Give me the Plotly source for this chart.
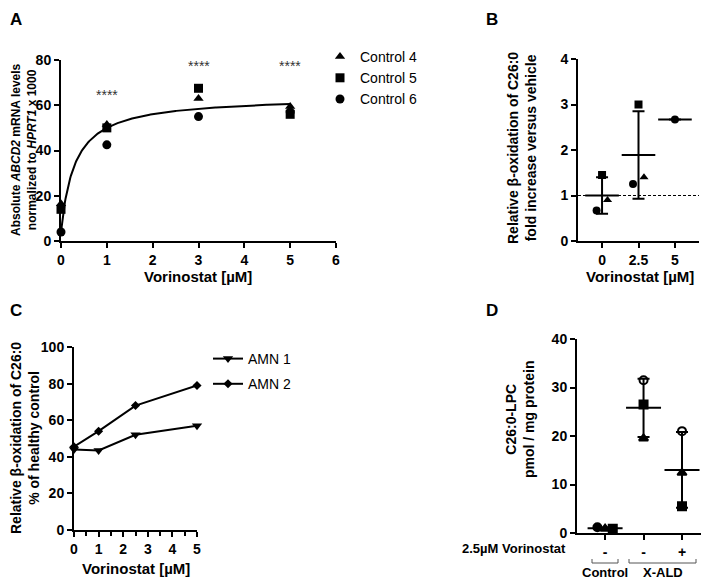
import plotly.graph_objects as go

W, H = 709, 580          # browser window
OFF = 8                  # default page margin around the figure
FW, FH = W - OFF, H - OFF
FONT = "Arial, Liberation Sans, sans-serif"

# ---------------- data ----------------
# Panel A
a_dose = [0, 1, 3, 5]
a_control4 = [16.5, 51.5, 63, 59.5]
a_control5 = [14, 50, 67.5, 56]
a_control6 = [4, 42.5, 55, 57]
a_names = ["Control 4", "Control 5", "Control 6"]
a_fit_bottom, a_fit_span, a_fit_k = 4.0, 60.0, 0.305   # hyperbolic fit parameters
a_sig_x = [1, 3, 5]
a_sig_y = [64.5, 77.5, 77.5]
a_sig_text = ["****", "****", "****"]

# Panel B
b_cats = ["0", "2.5", "5"]
b_circle = [0.67, 1.25, 2.67]
b_square = [1.45, 3.0, None]
b_triangle = [0.9, 1.4, None]
b_mean = [1.0, 1.89, 2.67]
b_sd = [0.4, 0.96, 0.0]

# Panel C
c_dose = [0, 1, 2.5, 5]
c_amn1 = [44, 43.5, 52, 57]
c_amn2 = [45.5, 54, 68, 79]
c_names = ["AMN 1", "AMN 2"]

# Panel D
d_ticks = ["-", "-", "+"]
d_circle = [1.2, 31.5, 21.0]
d_triangle = [0.9, 19.5, 12.4]
d_square = [0.9, 26.5, 5.5]
d_mean = [1.0, 25.8, 13.0]
d_sd = [0.15, 6.0, 7.8]
d_groups = ["Control", "X-ALD"]

# ---------------- helpers (page pixel -> paper fraction) ----------------
def px(x):
    return (x - OFF) / FW

def py(y):
    return 1 - (y - OFF) / FH

jit_b = [-0.15, 0.0, 0.15]          # horizontal spread of B points within a category
jit_d_control = [-0.2, 0.0, 0.2]    # horizontal spread of D control points

fig = go.Figure()

# ---------------- Panel A ----------------
sym_a = ["triangle-up", "square", "circle"]
for name, vals, sym in zip(a_names, [a_control4, a_control5, a_control6], sym_a):
    fig.add_trace(go.Scatter(x=a_dose, y=vals, mode="markers", name=name,
                             marker=dict(symbol=sym, size=9, color="black"),
                             xaxis="x", yaxis="y", legend="legend", cliponaxis=False))

n = 300
fit_x = [5 * i / n for i in range(n + 1)]
fit_y = [a_fit_bottom + a_fit_span * x / (a_fit_k + x) for x in fit_x]
fig.add_trace(go.Scatter(x=fit_x, y=fit_y, mode="lines", line=dict(color="black", width=2),
                         showlegend=False, xaxis="x", yaxis="y", cliponaxis=False))

for sx, sy, st in zip(a_sig_x, a_sig_y, a_sig_text):
    fig.add_annotation(x=sx, y=sy, xref="x", yref="y", text=st, showarrow=False,
                       font=dict(size=14, color="#333", family=FONT))

# ---------------- Panel B ----------------
bx = list(range(len(b_cats)))
fig.add_trace(go.Scatter(x=bx, y=b_mean, mode="markers",
                         marker=dict(symbol="line-ew", size=24, line=dict(width=2, color="black")),
                         error_y=dict(type="data", array=b_sd, width=6, thickness=2, color="black"),
                         showlegend=False, xaxis="x2", yaxis="y2", cliponaxis=False))
for vals, sym, off in [(b_circle, "circle", jit_b[0]), (b_square, "square", jit_b[1]),
                       (b_triangle, "triangle-up", jit_b[2])]:
    xs = [i + (off if i < 2 else 0) for i in bx]
    fig.add_trace(go.Scatter(x=xs, y=vals, mode="markers",
                             marker=dict(symbol=sym, size=8, color="black"),
                             showlegend=False, xaxis="x2", yaxis="y2", cliponaxis=False))
fig.add_shape(type="line", xref="x2 domain", yref="y2", x0=0, x1=1, y0=1, y1=1,
              line=dict(color="black", width=1, dash="3px,2px"))

# ---------------- Panel C ----------------
for name, vals, sym, sz in [(c_names[0], c_amn1, "triangle-down", 9),
                            (c_names[1], c_amn2, "diamond", 7)]:
    fig.add_trace(go.Scatter(x=c_dose, y=vals, mode="lines+markers", name=name,
                             line=dict(color="black", width=2),
                             marker=dict(symbol=sym, size=sz, color="black"),
                             legendgroup=name,
                             xaxis="x3", yaxis="y3", legend="legend2", cliponaxis=False))

# ---------------- Panel D ----------------
dx = list(range(len(d_ticks)))
fig.add_trace(go.Scatter(x=dx, y=d_mean, mode="markers",
                         marker=dict(symbol="line-ew", size=25, line=dict(width=2, color="black")),
                         error_y=dict(type="data", array=d_sd, width=6, thickness=2, color="black"),
                         showlegend=False, xaxis="x4", yaxis="y4", cliponaxis=False))
d_series = [(d_circle, ["circle", "circle-open", "circle-open"]),
            (d_triangle, ["triangle-up"] * 3),
            (d_square, ["square"] * 3)]
for k, (vals, syms) in enumerate(d_series):
    xs = [i + (jit_d_control[k] if i == 0 else 0.0) for i in dx]
    fig.add_trace(go.Scatter(x=xs, y=vals, mode="markers",
                             marker=dict(symbol=syms, size=8, color="black",
                                         line=dict(width=2, color="black")),
                             showlegend=False, xaxis="x4", yaxis="y4", cliponaxis=False))

# ---------------- axes ----------------
TICKFONT = dict(size=14, family=FONT, color="black", weight="bold")
axis_common = dict(showline=True, linecolor="black", linewidth=2, ticks="outside",
                   ticklen=5, tickwidth=1.5, tickcolor="black", showgrid=False,
                   zeroline=False, automargin=False, tickfont=TICKFONT)

fig.update_layout(
    template="none",
    xaxis=dict(domain=[px(61), px(336)], range=[0, 6], tickvals=[0, 1, 2, 3, 4, 5, 6],
               anchor="y", **axis_common),
    yaxis=dict(domain=[py(241), py(60)], range=[0, 80], tickvals=[0, 20, 40, 60, 80],
               anchor="x", **axis_common),
    xaxis2=dict(domain=[px(578), px(699)], range=[-0.66, 2.66], tickvals=bx, ticktext=b_cats,
                anchor="y2", **axis_common),
    yaxis2=dict(domain=[py(241), py(59)], range=[0, 4], tickvals=[0, 1, 2, 3, 4],
                anchor="x2", **axis_common),
    xaxis3=dict(domain=[px(74), px(197)], range=[0, 5], tickvals=[0, 1, 2, 3, 4, 5],
                minor=dict(dtick=0.5, ticks="outside", ticklen=4, tickwidth=1.5, tickcolor="black"),
                anchor="y3", **axis_common),
    yaxis3=dict(domain=[py(530), py(347)], range=[0, 100], tickvals=[0, 20, 40, 60, 80, 100],
                anchor="x3", **axis_common),
    xaxis4=dict(domain=[px(577), px(707)], range=[-0.73, 2.65], tickvals=dx, ticktext=d_ticks,
                anchor="y4", **axis_common),
    yaxis4=dict(domain=[py(533), py(339)], range=[0, 40], tickvals=[0, 10, 20, 30, 40],
                anchor="x4", **axis_common),
)

# ---------------- legends ----------------
fig.update_layout(
    legend=dict(x=px(320), y=py(41), xanchor="left", yanchor="top",
                font=dict(size=14, family=FONT, color="black"), bgcolor="rgba(0,0,0,0)",
                tracegroupgap=0),
    legend2=dict(x=px(208), y=py(343), xanchor="left", yanchor="top",
                 font=dict(size=14, family=FONT, color="black"), bgcolor="rgba(0,0,0,0)",
                 tracegroupgap=4, traceorder="grouped"),
)

# ---------------- text annotations ----------------
def ann(x, y, text, size=14, angle=0, xanchor="center", color="black"):
    fig.add_annotation(x=px(x), y=py(y), xref="paper", yref="paper", text=text,
                       showarrow=False, textangle=angle, xanchor=xanchor, yanchor="middle",
                       font=dict(size=size, family=FONT, color=color))

# panel letters
ann(16, 20, "<b>A</b>", size=17)
ann(492, 20, "<b>B</b>", size=17)
ann(16, 310, "<b>C</b>", size=17)
ann(492, 310, "<b>D</b>", size=17)

# axis titles
ann(24, 150, "<b>Absolute <i>ABCD2</i> mRNA levels<br>normalized to <i>HPRT1</i> x 1000</b>",
    size=12, angle=-90)
ann(198, 276, "<b>Vorinostat [µM]</b>", size=15)
ann(522, 148, "<b>Relative β-oxidation of C26:0<br>fold increase versus vehicle</b>", angle=-90)
ann(640, 277, "<b>Vorinostat [µM]</b>", size=15)
ann(25, 438, "<b>Relative β-oxidation of C26:0<br>% of healthy control</b>", angle=-90)
ann(136, 568, "<b>Vorinostat [µM]</b>", size=15)
ann(520, 420, "<b>C26:0-LPC<br>pmol / mg protein</b>", angle=-90)
ann(568, 548, "<b>2.5µM Vorinostat</b>", size=13, xanchor="right")
ann(605, 572, "<b>Control</b>", size=13)
ann(663, 572, "<b>X-ALD</b>", size=13)

# brackets
for x0, x1 in [(592, 618), (629, 696)]:
    fig.add_shape(type="path", xref="paper", yref="paper",
                  path=f"M {px(x0)} {py(559)} L {px(x0)} {py(563)} L {px(x1)} {py(563)} L {px(x1)} {py(559)}",
                  line=dict(color="#555", width=1))

fig.update_layout(width=FW, height=FH, margin=dict(l=0, r=0, t=0, b=0),
                  plot_bgcolor="white", paper_bgcolor="white",
                  font=dict(family=FONT, color="black"))

fig.write_html("out.html")
